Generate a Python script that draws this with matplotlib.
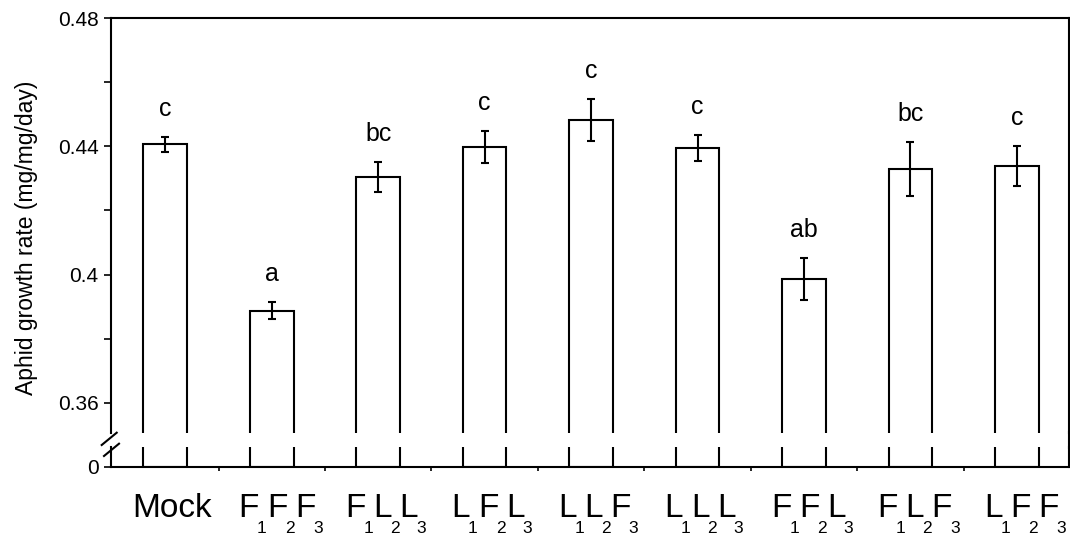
import numpy as np
import matplotlib
matplotlib.use('Agg')
import matplotlib.pyplot as plt
from matplotlib.lines import Line2D

plt.rcParams['font.family'] = ['Liberation Sans', 'DejaVu Sans']

# data
treatments = ['Mock', 'F1F2F3', 'F1L2L3', 'L1F2L3', 'L1L2F3',
              'L1L2L3', 'F1F2L3', 'F1L2F3', 'L1F2F3']
growth = [0.4406, 0.3887, 0.4304, 0.4397, 0.4482, 0.4394, 0.3986, 0.4329, 0.4339]
sem = [0.0023, 0.0026, 0.0046, 0.0050, 0.0066, 0.0041, 0.0066, 0.0083, 0.0062]
letters = ['c', 'a', 'bc', 'c', 'c', 'c', 'ab', 'bc', 'c']
ytick_vals = [0.36, 0.40, 0.44, 0.48]
ytick_labels = ['0.36', '0.4', '0.44', '0.48']
yminor_vals = [0.38, 0.42, 0.46]

W, H = 1070, 535
fig = plt.figure(figsize=(W / 100, H / 100), dpi=100)


def px_box(left, top, right, bottom):
    # axes rectangle from pixel edges
    return [left / W, 1 - bottom / H, (right - left) / W, (bottom - top) / H]


def fig_line(x0, y0, x1, y1):
    fig.add_artist(Line2D([x0 / W, x1 / W], [1 - y0 / H, 1 - y1 / H],
                          transform=fig.transFigure, color='black', lw=1.5))


ax = fig.add_axes(px_box(111, 18, 1069, 433))   # upper part (0.35 - 0.48)
ax2 = fig.add_axes(px_box(111, 447, 1069, 467))  # lower part near 0

x = np.arange(len(treatments))
for a in (ax, ax2):
    a.bar(x, growth, width=0.41, color='white', edgecolor='black', linewidth=1.5)
    a.set_xlim(-0.51, 8.49)
    for s in a.spines.values():
        s.set_linewidth(1.5)

ax.errorbar(x, growth, yerr=sem, fmt='none', ecolor='black',
            elinewidth=1.5, capsize=3.2, capthick=1.5)

ax.set_ylim(0.3506, 0.48)
ax.spines['bottom'].set_visible(False)
ax.set_xticks([])
ax.set_yticks(ytick_vals)
ax.set_yticklabels(ytick_labels)
ax.set_yticks(yminor_vals, minor=True)
ax.tick_params(axis='y', which='both', direction='out', length=5, width=1.2,
               labelsize=15, pad=4)

for i in range(len(x)):
    ax.annotate(letters[i], xy=(x[i], growth[i] + sem[i]), xytext=(0, 21),
                textcoords='offset pixels', ha='center', va='baseline', fontsize=18)

ax2.set_ylim(0, 0.05)
ax2.spines['top'].set_visible(False)
ax2.set_yticks([0])
ax2.set_yticklabels(['0'])
ax2.tick_params(axis='y', direction='out', length=5, width=1.2, labelsize=15, pad=4)
ax2.set_xticks(x[:-1] + 0.5)
ax2.set_xticklabels([])
ax2.tick_params(axis='x', direction='out', length=3, width=1.2)

fig.text(27 / W, 1 - 238 / H, 'Aphid growth rate (mg/mg/day)', rotation=90,
         ha='center', va='center', fontsize=16.5)

# axis break marks and right frame joint
fig_line(101.7, 445, 116.7, 432.7)
fig_line(104, 456, 119, 443.7)
fig_line(1069, 432, 1069, 448)

# x labels: big letters with small lowered subscripts
fig.canvas.draw()
r = fig.canvas.get_renderer()
for i, name in enumerate(treatments):
    if name == 'Mock':
        parts = [('Mock', '')]
    else:
        parts = [(name[k], name[k + 1]) for k in range(0, len(name), 2)]
    dx = -33
    for letter, sub in parts:
        t = ax2.annotate(letter, xy=(x[i], 0), xycoords=('data', 'axes fraction'),
                         xytext=(dx, -50), textcoords='offset pixels',
                         ha='left', va='baseline', fontsize=24)
        dx += t.get_window_extent(r).width - 2
        if sub:
            s = ax2.annotate(sub, xy=(x[i], 0), xycoords=('data', 'axes fraction'),
                             xytext=(dx, -66), textcoords='offset pixels',
                             ha='left', va='baseline', fontsize=12.5)
            dx += s.get_window_extent(r).width

fig.savefig('out.png', dpi=100)
